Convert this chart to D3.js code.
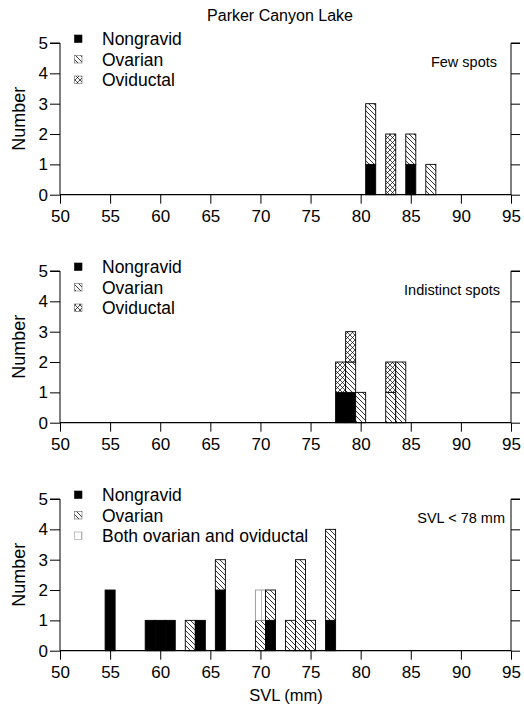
<!DOCTYPE html>
<html>
<head>
<meta charset="utf-8">
<script src="https://cdn.jsdelivr.net/npm/d3@7"></script>
<style>
  html, body { margin: 0; padding: 0; background: #fff; }
  svg { display: block; font-family: "Liberation Sans", Arial, sans-serif; }
</style>
</head>
<body>
<svg id="chart" width="524" height="712"></svg>
<script>
// ---- Data ----
const chartTitle = "Parker Canyon Lake";
const xLabel = "SVL (mm)";
const yLabel = "Number";
const xTicks = [50, 55, 60, 65, 70, 75, 80, 85, 90, 95];
const yTicks = [0, 1, 2, 3, 4, 5];
const panelNotes = ["Few spots", "Indistinct spots", "SVL < 78 mm"];

// Panel 1: Few spots
const p1SVL        = [81, 83, 85, 87];
const p1Nongravid  = [1, 0, 1, 0];
const p1Ovarian    = [2, 0, 1, 1];
const p1Oviductal  = [0, 2, 0, 0];
const p1Legend     = ["Nongravid", "Ovarian", "Oviductal"];

// Panel 2: Indistinct spots
const p2SVL        = [78, 79, 80, 83, 84];
const p2Nongravid  = [1, 1, 0, 0, 0];
const p2Ovarian    = [0, 1, 1, 1, 2];
const p2Oviductal  = [1, 1, 0, 1, 0];
const p2Legend     = ["Nongravid", "Ovarian", "Oviductal"];

// Panel 3: SVL < 78 mm
const p3SVL        = [55, 59, 60, 61, 63, 64, 66, 70, 71, 73, 74, 75, 77];
const p3Nongravid  = [2, 1, 1, 1, 0, 1, 2, 0, 1, 0, 0, 0, 1];
const p3Ovarian    = [0, 0, 0, 0, 1, 0, 1, 1, 1, 1, 3, 1, 3];
const p3Both       = [0, 0, 0, 0, 0, 0, 0, 1, 0, 0, 0, 0, 0];
const p3Legend     = ["Nongravid", "Ovarian", "Both ovarian and oviductal"];

// ---- Drawing ----
const svg = d3.select("#chart");
const defs = svg.append("defs");

function hatch(id, d, w, stroke, sw) {
  const p = defs.append("pattern").attr("id", id)
    .attr("patternUnits", "userSpaceOnUse").attr("width", w).attr("height", w);
  p.append("rect").attr("width", w).attr("height", w).attr("fill", "#fff");
  p.append("path").attr("d", d).attr("stroke", stroke).attr("stroke-width", sw).attr("fill", "none");
}
hatch("ovarian", "M-1,-1 L6,6 M-1,4 L1,6 M4,-1 L6,1", 5, "#000", 0.8);
hatch("oviductal", "M-1,-1 L6,6 M-1,4 L1,6 M4,-1 L6,1 M-1,6 L6,-1 M-1,1 L1,-1 M4,6 L6,4", 5, "#000", 0.7);
hatch("both", "M0.5,0 L0.5,9", 9, "#aaa", 0.8);

const fills = ["#000", "url(#ovarian)", null];

const x = d3.scaleLinear().domain([50, 95]).range([60, 511]);
const panels = [
  { svl: p1SVL, series: [p1Nongravid, p1Ovarian, p1Oviductal], third: "url(#oviductal)", legend: p1Legend, top: 43 },
  { svl: p2SVL, series: [p2Nongravid, p2Ovarian, p2Oviductal], third: "url(#oviductal)", legend: p2Legend, top: 271 },
  { svl: p3SVL, series: [p3Nongravid, p3Ovarian, p3Both], third: "url(#both)", legend: p3Legend, top: 499 }
];
const panelH = 151.7;
const noteRight = [497, 500, 505];
const tickFont = "Liberation Sans, Arial, sans-serif";

// Title
svg.append("text").attr("x", 280).attr("y", 21).attr("text-anchor", "middle")
  .attr("font-size", 16).text(chartTitle);

panels.forEach((pn, i) => {
  const y = d3.scaleLinear().domain([0, 5]).range([pn.top + panelH, pn.top]);
  const g = svg.append("g");
  const pFills = [fills[0], fills[1], pn.third];

  // bars (stacked)
  pn.svl.forEach((s, j) => {
    let base = 0;
    pn.series.forEach((ser, k) => {
      const v = ser[j];
      if (v > 0) {
        g.append("rect")
          .attr("x", x(s - 0.5)).attr("width", x(s + 0.5) - x(s - 0.5))
          .attr("y", y(base + v)).attr("height", y(base) - y(base + v))
          .attr("fill", pFills[k])
          .attr("stroke", k === 2 && pn.third === "url(#both)" ? "#999" : "#000")
          .attr("stroke-width", 0.9);
        base += v;
      }
    });
  });

  // left axis
  const ya = g.append("g").attr("transform", `translate(${x(50)},0)`)
    .call(d3.axisLeft(y).tickValues(yTicks).tickSize(10).tickPadding(2).tickFormat(d3.format("d")));
  ya.selectAll("text").attr("font-size", 17).attr("fill", "#000").attr("font-family", tickFont);
  ya.select(".domain").attr("d", `M-10,${y(5)}H0V${y(0)}`);

  // right axis
  const yr = g.append("g").attr("transform", `translate(${x(95)},0)`)
    .call(d3.axisRight(y).tickValues(yTicks).tickSize(9).tickFormat(""));
  yr.select(".domain").attr("d", `M9,${y(5)}H0V${y(0)}`);

  // bottom axis
  const xa = g.append("g").attr("transform", `translate(0,${y(0)})`)
    .call(d3.axisBottom(x).tickValues(xTicks).tickSize(9).tickPadding(6).tickFormat(d3.format("d")));
  xa.selectAll("text").attr("font-size", 17).attr("fill", "#000").attr("font-family", tickFont);
  xa.select(".domain").attr("d", `M${x(50)},0H${x(95)}`).attr("stroke-width", 1.2);

  // y label
  g.append("text").attr("transform", `translate(25,${y(2.5)}) rotate(-90)`)
    .attr("text-anchor", "middle").attr("font-size", 18).text(yLabel);

  // note
  g.append("text").attr("x", noteRight[i]).attr("y", pn.top + 23.5).attr("text-anchor", "end")
    .attr("font-size", 14.5).text(panelNotes[i]);

  // legend
  pn.legend.forEach((lab, k) => {
    const by = pn.top + 2 + k * 20.5;
    g.append("rect").attr("x", 74.5).attr("y", by - 10).attr("width", 7.5).attr("height", 7.5)
      .attr("fill", pFills[k]).attr("stroke", k === 2 && pn.third === "url(#both)" ? "#999" : (k === 0 ? "#000" : "#666"))
      .attr("stroke-width", 0.6);
    g.append("text").attr("x", 102).attr("y", by).attr("font-size", 17.5).text(lab);
  });
});

// x label
svg.append("text").attr("x", 286).attr("y", 701).attr("text-anchor", "middle")
  .attr("font-size", 16.5).text(xLabel);
</script>
</body>
</html>
